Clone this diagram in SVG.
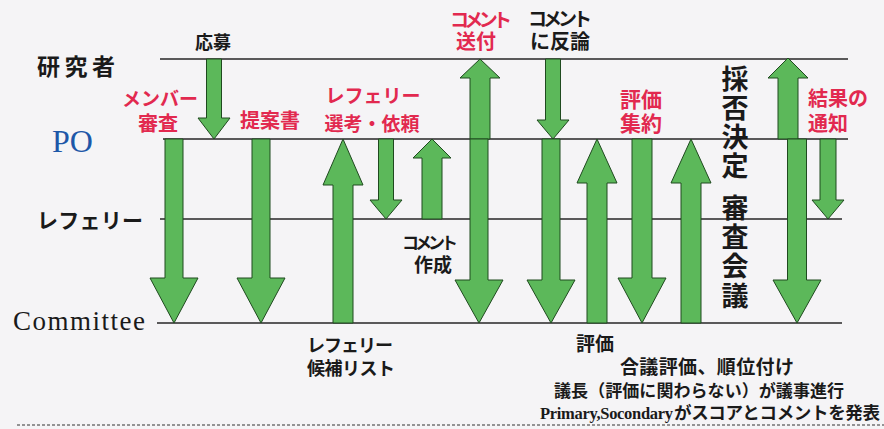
<svg xmlns="http://www.w3.org/2000/svg" width="884" height="429" viewBox="0 0 884 429">
  <style>
    .jp { font-family: "Noto Sans CJK JP", "Noto Sans", sans-serif; font-weight: 700; }
    .red { fill: #e2294f; }
    .blk { fill: #1a1a1a; }
    .lane { stroke: #262626; stroke-width: 1.3; fill: none; }
    .arr { fill: #5cb85a; stroke: #1f4a1f; stroke-width: 1; stroke-linejoin: miter; }
    .serif { font-family: "Liberation Serif", "Times New Roman", serif; }
  </style>
  <rect x="0" y="0" width="884" height="429" fill="#f5f4f6"/>

  <g id="lane-researcher">
    <line class="lane" x1="160" y1="59" x2="848" y2="59"/>
    <text class="jp blk" x="37" y="75" font-size="23" font-weight="500" textLength="78">研究者</text>
  </g>
  <g id="lane-po">
    <line class="lane" x1="163" y1="139" x2="848" y2="139"/>
    <text class="serif" x="52" y="152" font-size="32" fill="#1d57a8">PO</text>
  </g>
  <g id="lane-referee">
    <line class="lane" x1="160" y1="219" x2="842" y2="219"/>
    <text class="jp blk" x="37" y="228" font-size="21" font-weight="500" textLength="106">レフェリー</text>
  </g>
  <g id="lane-committee">
    <line class="lane" x1="157" y1="323" x2="842" y2="323"/>
    <text class="serif blk" x="13" y="330" font-size="27" textLength="132">Committee</text>
  </g>

  <g id="connectors">
    <path class="arr" d="M206.5,59 H221.5 V118 H230 L214,139 L198,118 H206.5 Z"/>
    <path class="arr" d="M165,139 H183 V278 H198 L174,323 L150,278 H165 Z"/>
    <path class="arr" d="M252,139 H270 V278 H285 L261,323 L237,278 H252 Z"/>
    <path class="arr" d="M333,323 V185 H323 L343,139 L363,185 H353 V323 Z"/>
    <path class="arr" d="M378.5,139 H393.5 V200 H402 L386,219 L370,200 H378.5 Z"/>
    <path class="arr" d="M422,219 V158 H413 L432,139 L451,158 H442 V219 Z"/>
    <path class="arr" d="M470,139 V78 H460 L480,59 L500,78 H490 V139 Z"/>
    <path class="arr" d="M470,139 H488 V280 H503 L479,323 L455,280 H470 Z"/>
    <path class="arr" d="M545.5,59 H560.5 V120 H569 L553,139 L537,120 H545.5 Z"/>
    <path class="arr" d="M542,139 H560 V280 H575 L551,323 L527,280 H542 Z"/>
    <path class="arr" d="M587,323 V183 H577 L597,139 L617,183 H607 V323 Z"/>
    <path class="arr" d="M632,139 H652 V278 H666 L642,323 L618,278 H632 Z"/>
    <path class="arr" d="M681,323 V183 H671 L691,139 L711,183 H701 V323 Z"/>
    <path class="arr" d="M778,139 V78 H768 L788,58 L808,78 H798 V139 Z"/>
    <path class="arr" d="M787.5,139 H806.5 V280 H821 L797,323 L773,280 H787.5 Z"/>
    <path class="arr" d="M820,139 H836 V200 H844 L828,219 L812,200 H820 Z"/>
  </g>

  <g id="labels">
    <text class="jp blk" x="213" y="49" font-size="18" text-anchor="middle">応募</text>
    <text class="jp red" text-anchor="middle"><tspan x="160" y="106" font-size="19">メンバー</tspan><tspan x="158" y="131" font-size="20">審査</tspan></text>
    <text class="jp red" x="270" y="128" font-size="20" text-anchor="middle">提案書</text>
    <text class="jp red" font-size="19" text-anchor="middle"><tspan x="373" y="103">レフェリー</tspan><tspan x="372" y="131">選考・依頼</tspan></text>
    <text class="jp red"><tspan x="450" y="27" font-size="19" textLength="62">コメント</tspan><tspan x="456" y="49" font-size="20">送付</tspan></text>
    <text class="jp blk"><tspan x="528" y="26" font-size="19" textLength="64">コメント</tspan><tspan x="530" y="49" font-size="20">に反論</tspan></text>
    <text class="jp red" font-size="21" text-anchor="middle"><tspan x="641" y="107">評価</tspan><tspan x="641" y="131">集約</tspan></text>
    <text class="jp red" font-size="20"><tspan x="808" y="106">結果の</tspan><tspan x="808" y="131">通知</tspan></text>
    <text class="jp blk"><tspan x="402" y="249" font-size="17" textLength="56">コメント</tspan><tspan x="414" y="272" font-size="19">作成</tspan></text>
    <text class="jp blk" font-size="18"><tspan x="307" y="352" textLength="86">レフェリー</tspan><tspan x="307" y="375" textLength="88">候補リスト</tspan></text>
    <g id="decision" class="jp blk" font-size="27" font-weight="500">
      <text x="735" y="65" writing-mode="vertical-rl" letter-spacing="2">採否決定</text>
      <text x="735" y="194" writing-mode="vertical-rl" letter-spacing="2.3">審査会議</text>
    </g>
    <text class="jp blk" x="576" y="351" font-size="19">評価</text>
    <text class="jp blk"><tspan x="620" y="374" font-size="19" textLength="174">合議評価、順位付け</tspan><tspan x="554" y="397" font-size="17" textLength="290">議長（評価に関わらない）が議事進行</tspan><tspan class="serif" x="540" y="419" font-size="16.5" font-weight="700" textLength="133">Primary,Socondary</tspan><tspan x="674" y="419" font-size="17.5" textLength="206">がスコアとコメントを発表</tspan></text>
  </g>

  <line x1="17" y1="425" x2="884" y2="425" stroke="#333" stroke-width="1" stroke-dasharray="3,2"/>
</svg>
